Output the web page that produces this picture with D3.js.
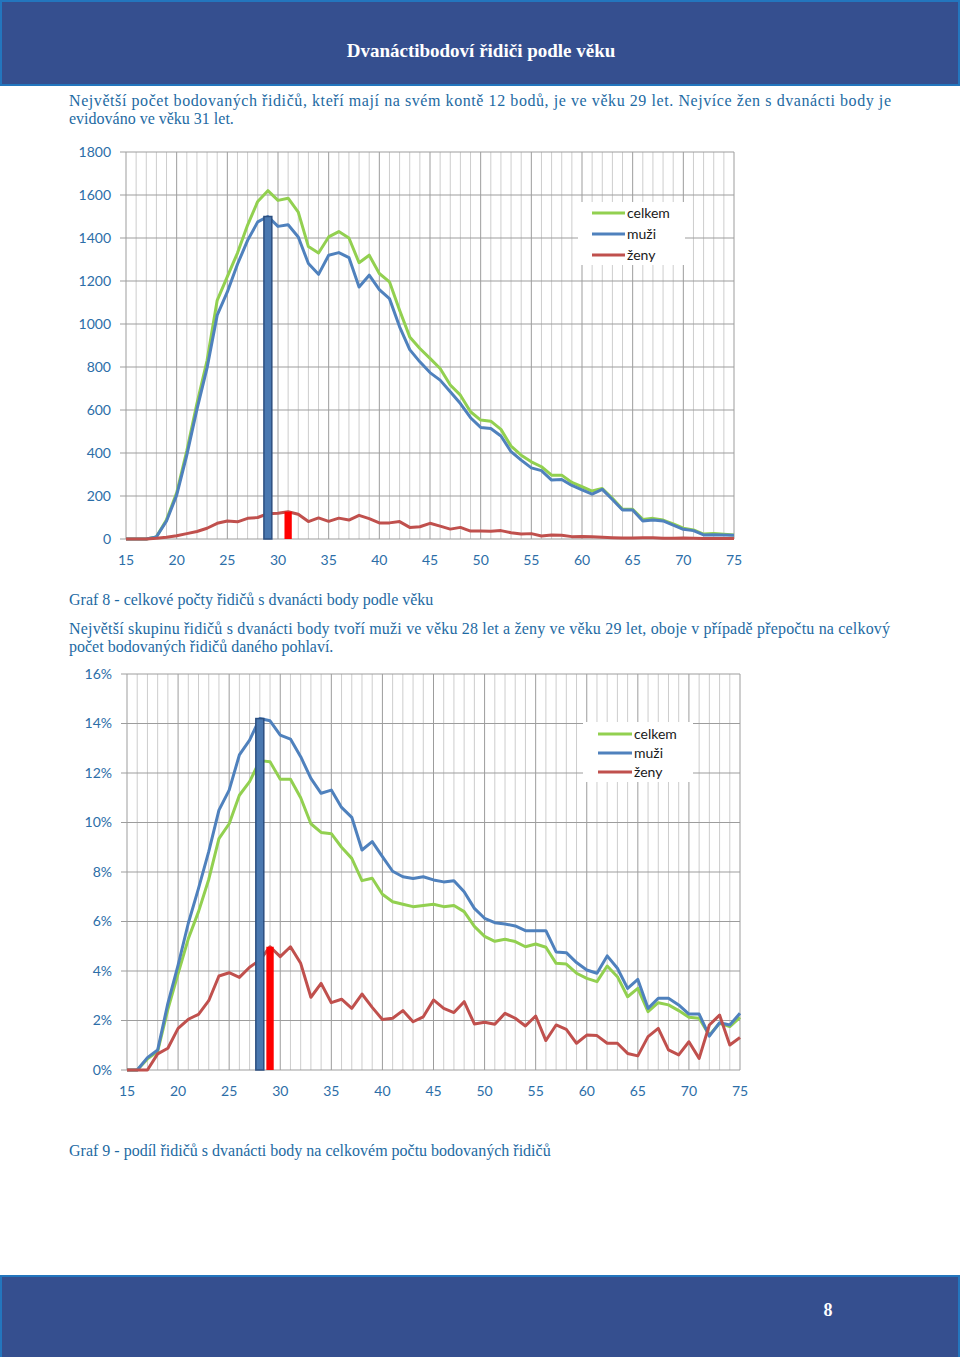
<!DOCTYPE html>
<html><head><meta charset="utf-8">
<script src="https://cdn.jsdelivr.net/npm/d3@7"></script>
<style>body{margin:0;background:#fff}svg{display:block}</style>
</head><body>
<script>
// ---------- DATA ----------
const ages = [15,16,17,18,19,20,21,22,23,24,25,26,27,28,29,30,31,32,33,34,35,36,37,38,39,40,41,42,43,44,45,46,47,48,49,50,51,52,53,54,55,56,57,58,59,60,61,62,63,64,65,66,67,68,69,70,71,72,73,74,75];
const seriesNames = ["celkem","muži","ženy"];

// Graf 8 – counts
const celkem1 = [0,0,0,10,90,215,410,630,830,1110,
  1220,1330,1460,1570,1620,1575,1585,1520,1360,1330,
  1405,1430,1400,1285,1320,1235,1196,1064,940,886,
  840,793,716,669,592,553,548,510,432,390,
  359,336,297,297,263,243,223,235,189,138,
  138,91,96,88,70,50,42,23,26,22,
  19];
const muzi1 = [0,0,0,10,84,204,390,603,796,1041,
  1149,1278,1389,1475,1500,1454,1462,1405,1281,1231,
  1320,1332,1309,1172,1227,1160,1118,987,881,824,
  774,739,685,630,564,519,514,479,406,367,
  331,318,274,277,249,228,209,231,184,135,
  135,84,88,84,65,45,39,19,20,19,
  17];
const zeny1 = [0,0,0,3,8,15,25,35,50,73,
  84,80,96,100,118,120,127,115,81,98,
  82,97,88,110,95,75,75,81,54,57,
  73,60,46,54,37,37,36,39,29,23,
  25,14,19,17,11,12,11,8,6,5,
  5,6,6,3,3,5,3,2,2,2,
  2];

// Graf 9 – shares in %
const celkem2 = [0,0,0.45,0.75,2.45,3.9,5.3,6.4,7.7,9.35,
  9.95,11.1,11.65,12.5,12.45,11.75,11.75,11.0,9.95,9.6,
  9.55,9.0,8.55,7.65,7.75,7.1,6.8,6.7,6.6,6.65,
  6.7,6.6,6.65,6.4,5.8,5.4,5.2,5.28,5.19,4.98,
  5.09,4.96,4.31,4.28,3.91,3.7,3.57,4.2,3.77,2.96,
  3.3,2.36,2.72,2.63,2.4,2.13,2.09,1.41,1.89,1.75,
  2.13];
const muzi2 = [0,0,0.5,0.81,2.69,4.24,5.93,7.34,8.82,10.5,
  11.31,12.73,13.33,14.2,14.11,13.53,13.37,12.66,11.78,11.18,
  11.31,10.61,10.21,8.89,9.23,8.62,8.03,7.81,7.74,7.81,
  7.68,7.6,7.65,7.2,6.53,6.13,5.95,5.9,5.82,5.63,
  5.63,5.63,4.77,4.74,4.34,4.04,3.91,4.61,4.11,3.30,
  3.66,2.49,2.9,2.9,2.63,2.26,2.26,1.37,1.91,1.82,
  2.29];
const zeny2 = [0,0,0,0.65,0.88,1.68,2.05,2.25,2.8,3.8,
  3.93,3.74,4.15,4.44,4.98,4.58,4.98,4.31,2.94,3.5,
  2.72,2.86,2.49,3.07,2.53,2.04,2.09,2.4,1.95,2.15,
  2.83,2.49,2.32,2.76,1.86,1.93,1.85,2.29,2.09,1.78,
  2.18,1.19,1.82,1.64,1.08,1.41,1.39,1.08,1.08,0.67,
  0.57,1.35,1.68,0.81,0.61,1.14,0.47,1.82,2.22,1.01,
  1.31];

// highlighted maxima (bars)
const barAges1 = [29, 31];
const barValues1 = [1500, 127];
const barAges2 = [28, 29];
const barValues2 = [14.2, 4.98];
const barSeries = ["muži","ženy"];

const xTicks = [15,20,25,30,35,40,45,50,55,60,65,70,75];
const yTicks1 = [0,200,400,600,800,1000,1200,1400,1600,1800];
const yTicks2 = [0,2,4,6,8,10,12,14,16];

const titleText = "Dvanáctibodoví řidiči podle věku";
const para1 = ["Největší počet bodovaných řidičů, kteří mají na svém kontě 12 bodů, je ve věku 29 let. Nejvíce žen s dvanácti body je",
               "evidováno ve věku 31 let."];
const caption1 = "Graf 8 - celkové počty řidičů s dvanácti body podle věku";
const para2 = ["Největší skupinu řidičů s dvanácti body tvoří muži ve věku 28 let a ženy ve věku 29 let, oboje v případě přepočtu na celkový",
               "počet bodovaných řidičů daného pohlaví."];
const caption2 = "Graf 9 - podíl řidičů s dvanácti body na celkovém počtu bodovaných řidičů";
const pageNumber = "8";

// ---------- DRAW ----------
const W = 960, H = 1357;
const colors = {"celkem":"#92d050","muži":"#4f81bd","ženy":"#c0504d"};
const barFill = {"muži":"#4a78b0","ženy":"#ff0000"};
const barStroke = {"muži":"#2c4f80","ženy":"none"};
const textBlue = "#1d6aa3";
const axisBlue = "#2c6ea8";

const svg = d3.select("body").append("svg").attr("width", W).attr("height", H);
svg.append("rect").attr("width", W).attr("height", H).attr("fill", "#fff");

// header / footer bands
function band(y, h) {
  svg.append("rect").attr("x", 1).attr("y", y+1).attr("width", W-2).attr("height", h-2)
    .attr("fill", "#354f8f").attr("stroke", "#2376be").attr("stroke-width", 2);
}
band(0, 86);
band(1275, 84);
svg.append("text").attr("x", 481).attr("y", 57).attr("text-anchor", "middle")
  .attr("font-family", "Liberation Serif").attr("font-weight", "bold").attr("font-size", 19)
  .attr("fill", "#fff").text(titleText);
svg.append("text").attr("x", 828).attr("y", 1316).attr("text-anchor", "middle")
  .attr("font-family", "Liberation Serif").attr("font-weight", "bold").attr("font-size", 18)
  .attr("fill", "#fff").text(pageNumber);

function textLine(str, x, y, justifyWidth) {
  const t = svg.append("text").attr("x", x).attr("y", y)
    .attr("font-family", "Liberation Serif").attr("font-size", 16)
    .attr("fill", textBlue).text(str);
  if (justifyWidth) t.attr("textLength", justifyWidth).attr("lengthAdjust", "spacing");
}
textLine(para1[0], 69, 106, 822);
textLine(para1[1], 69, 124);
textLine(caption1, 69, 605);
textLine(para2[0], 69, 634, 821);
textLine(para2[1], 69, 652);
textLine(caption2, 69, 1156);

function chart(opts) {
  const {x0, x1, yTop, yBot, yMax, yTicks, fmt, lines, barAges, barValues, legend, labelRight, tickLeft} = opts;
  const x = d3.scaleLinear().domain([15, 75]).range([x0, x1]);
  const y = d3.scaleLinear().domain([0, yMax]).range([yBot, yTop]);
  const g = svg.append("g");
  // minor vertical gridlines (every year)
  g.selectAll(".vminor").data(ages.filter(a => a % 5 !== 0)).join("line")
    .attr("x1", d => x(d)).attr("x2", d => x(d)).attr("y1", yTop).attr("y2", yBot)
    .attr("stroke", "#cdcdcd").attr("stroke-width", 1);
  // major vertical gridlines
  g.selectAll(".vmajor").data(xTicks).join("line")
    .attr("x1", d => x(d)).attr("x2", d => x(d)).attr("y1", yTop).attr("y2", yBot)
    .attr("stroke", "#9d9d9d").attr("stroke-width", 1);
  // horizontal gridlines
  g.selectAll(".h").data(yTicks).join("line")
    .attr("x1", tickLeft).attr("x2", x1).attr("y1", d => y(d)).attr("y2", d => y(d))
    .attr("stroke", "#9d9d9d").attr("stroke-width", 1);
  // y labels
  g.selectAll(".yl").data(yTicks).join("text")
    .attr("x", labelRight).attr("y", d => y(d)).attr("dy", "0.35em").attr("text-anchor", "end")
    .attr("font-family", "Lato").attr("font-size", 14).attr("fill", axisBlue).text(fmt);
  // x labels
  g.selectAll(".xl").data(xTicks).join("text")
    .attr("x", d => x(d)).attr("y", yBot + 21).attr("dy", "0.35em").attr("text-anchor", "middle")
    .attr("font-family", "Lato").attr("font-size", 14).attr("fill", axisBlue).text(d => d);
  // lines
  const line = d3.line().x((d, i) => x(ages[i])).y(d => y(d));
  lines.forEach(([name, vals]) => {
    g.append("path").datum(vals).attr("d", line).attr("fill", "none")
      .attr("stroke", colors[name]).attr("stroke-width", 3).attr("stroke-linejoin", "round");
  });
  // bars
  const step = x(16) - x(15);
  barAges.forEach((a, i) => {
    const s = barSeries[i];
    const bw = s === "muži" ? step * 0.78 : step * 0.72;
    g.append("rect").attr("x", x(a) - bw / 2).attr("width", bw)
      .attr("y", y(barValues[i])).attr("height", y(0) - y(barValues[i]))
      .attr("fill", barFill[s]).attr("stroke", barStroke[s]).attr("stroke-width", 1.5);
  });
  // legend
  const L = legend;
  g.append("rect").attr("x", L.x).attr("y", L.y).attr("width", L.w).attr("height", L.h).attr("fill", "#fff");
  seriesNames.forEach((n, i) => {
    const ly = L.rowY + i * L.rowH;
    g.append("line").attr("x1", L.lx0).attr("x2", L.lx1).attr("y1", ly).attr("y2", ly)
      .attr("stroke", colors[n]).attr("stroke-width", 3);
    g.append("text").attr("x", L.lx1 + 2).attr("y", ly).attr("dy", "0.35em")
      .attr("font-family", "Lato").attr("font-size", 14).attr("fill", "#1a1a1a").text(n);
  });
}

chart({
  x0: 126, x1: 734, yTop: 152, yBot: 539, yMax: 1800, yTicks: yTicks1, fmt: d => d,
  lines: [["celkem", celkem1], ["muži", muzi1], ["ženy", zeny1]],
  barAges: barAges1, barValues: barValues1,
  legend: {x: 578, y: 202, w: 107, h: 63, rowY: 213, rowH: 21, lx0: 592, lx1: 625},
  labelRight: 111, tickLeft: 120
});
chart({
  x0: 127, x1: 740, yTop: 674, yBot: 1070, yMax: 16, yTicks: yTicks2, fmt: d => d + "%",
  lines: [["celkem", celkem2], ["muži", muzi2], ["ženy", zeny2]],
  barAges: barAges2, barValues: barValues2,
  legend: {x: 583, y: 722, w: 110, h: 60, rowY: 734, rowH: 19, lx0: 598, lx1: 632},
  labelRight: 112, tickLeft: 121
});
</script>
</body></html>
